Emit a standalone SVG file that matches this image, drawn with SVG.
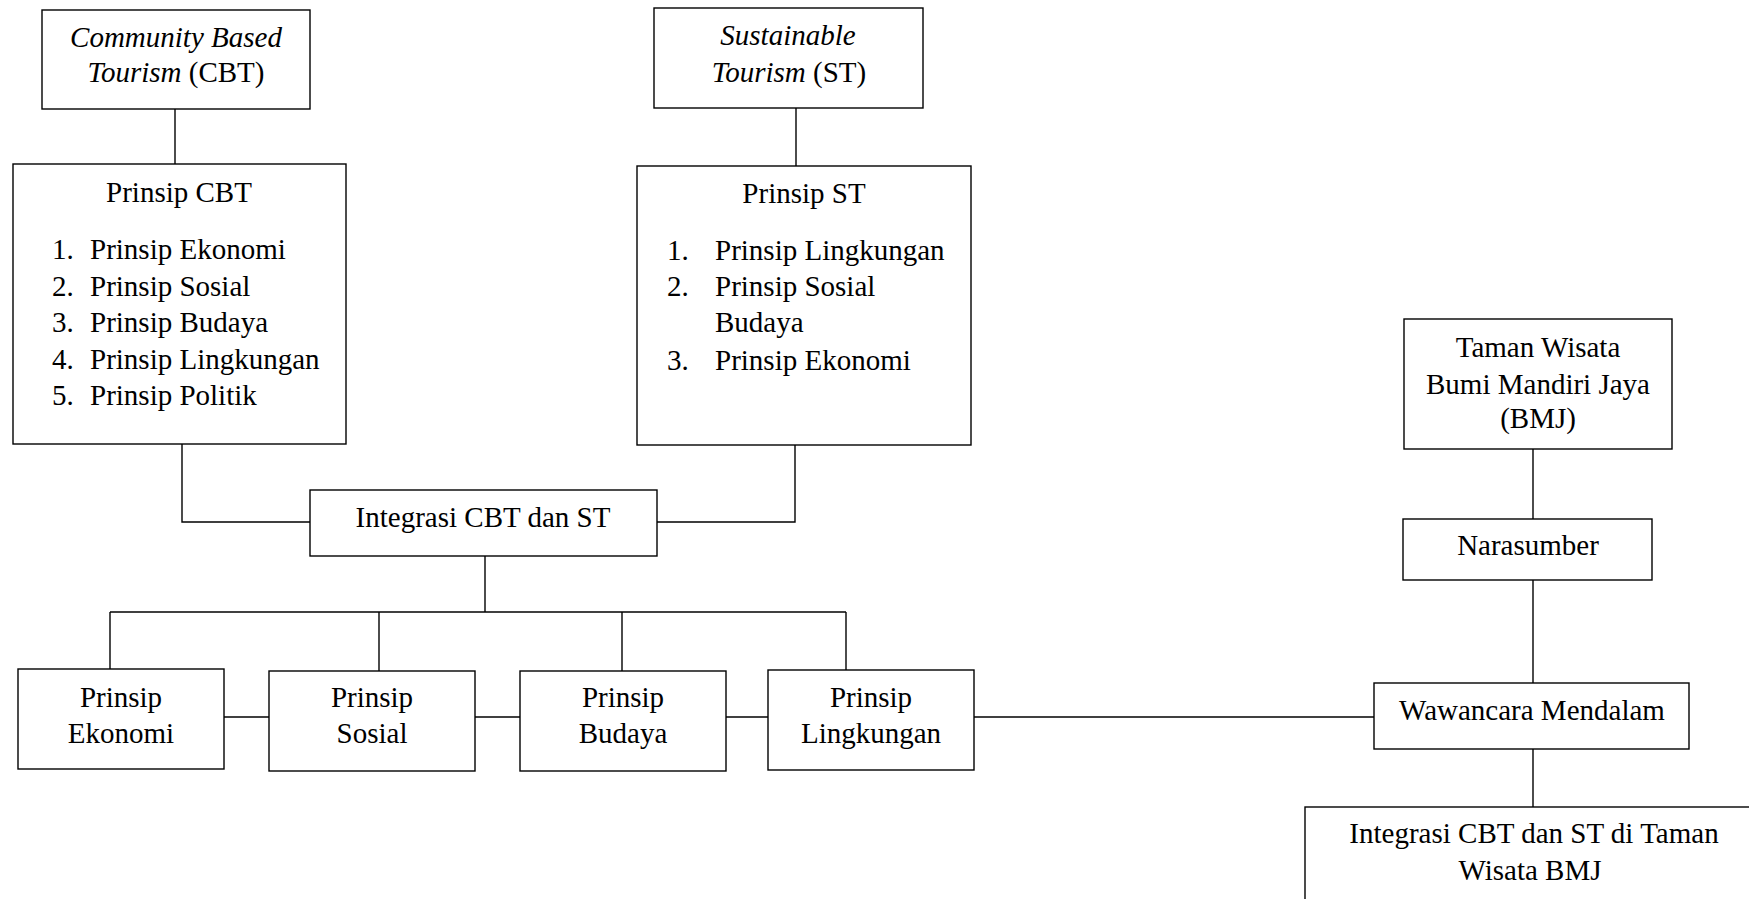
<svg xmlns="http://www.w3.org/2000/svg" width="1749" height="899" viewBox="0 0 1749 899">
<style>
rect{fill:#fff;stroke:#000;stroke-width:1.4}
line,polyline{fill:none;stroke:#000;stroke-width:1.4}
text{font-family:"Liberation Serif","Times New Roman",serif;font-size:29px;fill:#000}
.c{text-anchor:middle}
.i{font-style:italic}
</style>
<rect x="0" y="0" width="1749" height="899" style="fill:#fff;stroke:none"/>
<g id="connectors">
<line x1="175" y1="109" x2="175" y2="164"/>
<line x1="796" y1="108" x2="796" y2="166"/>
<polyline points="182,444 182,522 310,522"/>
<polyline points="795,445 795,522 657,522"/>
<line x1="485" y1="556" x2="485" y2="612"/>
<line x1="110" y1="612" x2="846" y2="612"/>
<line x1="110" y1="612" x2="110" y2="669"/>
<line x1="379" y1="612" x2="379" y2="671"/>
<line x1="622" y1="612" x2="622" y2="671"/>
<line x1="846" y1="612" x2="846" y2="670"/>
<line x1="224" y1="717" x2="269" y2="717"/>
<line x1="475" y1="717" x2="520" y2="717"/>
<line x1="726" y1="717" x2="768" y2="717"/>
<line x1="974" y1="717" x2="1374" y2="717"/>
<line x1="1533" y1="449" x2="1533" y2="519"/>
<line x1="1533" y1="580" x2="1533" y2="683"/>
<line x1="1533" y1="749" x2="1533" y2="807"/>
</g>
<g id="cbt">
<rect x="42" y="10" width="268" height="99"/>
<text x="176" y="47" class="c i">Community Based</text>
<text x="176" y="82" class="c"><tspan class="i">Tourism</tspan> (CBT)</text>
</g>
<g id="prinsip-cbt">
<rect x="13" y="164" width="333" height="280"/>
<text x="179" y="202" class="c">Prinsip CBT</text>
<text x="52" y="259">1.</text><text x="90" y="259">Prinsip Ekonomi</text>
<text x="52" y="296">2.</text><text x="90" y="296">Prinsip Sosial</text>
<text x="52" y="332">3.</text><text x="90" y="332">Prinsip Budaya</text>
<text x="52" y="369">4.</text><text x="90" y="369">Prinsip Lingkungan</text>
<text x="52" y="405">5.</text><text x="90" y="405">Prinsip Politik</text>
</g>
<g id="st">
<rect x="654" y="8" width="269" height="100"/>
<text x="788" y="45" class="c i">Sustainable</text>
<text x="789" y="82" class="c"><tspan class="i">Tourism</tspan> (ST)</text>
</g>
<g id="prinsip-st">
<rect x="637" y="166" width="334" height="279"/>
<text x="804" y="203" class="c">Prinsip ST</text>
<text x="667" y="260">1.</text><text x="715" y="260">Prinsip Lingkungan</text>
<text x="667" y="296">2.</text><text x="715" y="296">Prinsip Sosial</text>
<text x="715" y="332">Budaya</text>
<text x="667" y="370">3.</text><text x="715" y="370">Prinsip Ekonomi</text>
</g>
<g id="integrasi">
<rect x="310" y="490" width="347" height="66"/>
<text x="483" y="527" class="c">Integrasi CBT dan ST</text>
</g>
<g id="p-ekonomi">
<rect x="18" y="669" width="206" height="100"/>
<text x="121" y="707" class="c">Prinsip</text>
<text x="121" y="743" class="c">Ekonomi</text>
</g>
<g id="p-sosial">
<rect x="269" y="671" width="206" height="100"/>
<text x="372" y="707" class="c">Prinsip</text>
<text x="372" y="743" class="c">Sosial</text>
</g>
<g id="p-budaya">
<rect x="520" y="671" width="206" height="100"/>
<text x="623" y="707" class="c">Prinsip</text>
<text x="623" y="743" class="c">Budaya</text>
</g>
<g id="p-lingkungan">
<rect x="768" y="670" width="206" height="100"/>
<text x="871" y="707" class="c">Prinsip</text>
<text x="871" y="743" class="c">Lingkungan</text>
</g>
<g id="taman">
<rect x="1404" y="319" width="268" height="130"/>
<text x="1538" y="357" class="c">Taman Wisata</text>
<text x="1538" y="394" class="c">Bumi Mandiri Jaya</text>
<text x="1538" y="428" class="c">(BMJ)</text>
</g>
<g id="narasumber">
<rect x="1403" y="519" width="249" height="61"/>
<text x="1528" y="555" class="c">Narasumber</text>
</g>
<g id="wawancara">
<rect x="1374" y="683" width="315" height="66"/>
<text x="1532" y="720" class="c">Wawancara Mendalam</text>
</g>
<g id="hasil">
<rect x="1305" y="807" width="470" height="120"/>
<text x="1534" y="843" class="c">Integrasi CBT dan ST di Taman</text>
<text x="1530" y="880" class="c">Wisata BMJ</text>
</g>
</svg>
